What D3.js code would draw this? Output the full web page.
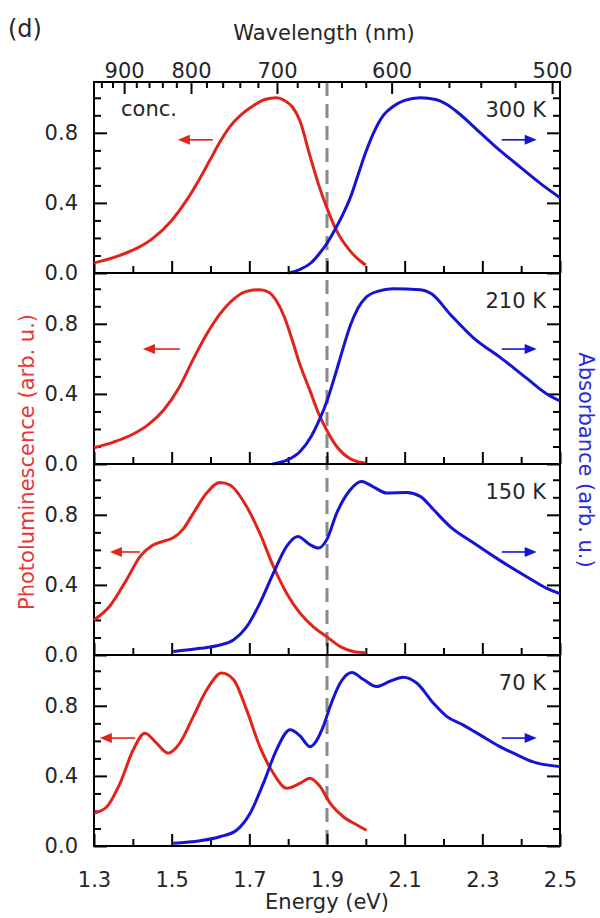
<!DOCTYPE html>
<html>
<head>
<meta charset="utf-8">
<script src="https://cdn.jsdelivr.net/npm/d3@7"></script>
<style>
body{margin:0;background:#fff}
svg text{font-family:"DejaVu Sans",sans-serif}
</style>
</head>
<body>
<svg id="chart"></svg>
<script>
// ---- data ----
const energyTicks = [1.3,1.5,1.7,1.9,2.1,2.3,2.5]
const energyMinor = [1.4,1.6,1.8,2.0,2.2,2.4]
const wavelengthTicks = [900,800,700,600,500]
const wavelengthMinor = [940,920,880,860,840,820,780,760,740,720,680,660,640,620,580,560,540,520]
const intensityTicks = [0.0,0.4,0.8]
const intensityMinor = [0.1,0.2,0.3,0.5,0.6,0.7,0.9,1.0]
const temperatures = ['300 K','210 K','150 K','70 K']
const gapEnergy = 1.9

// photoluminescence [energy eV, normalised]
const pl300 = [[1.30,0.058],[1.35,0.088],[1.40,0.13],[1.45,0.195],[1.50,0.30],[1.54,0.42],[1.57,0.53],[1.60,0.65],[1.625,0.75],[1.65,0.835],[1.68,0.905],[1.71,0.955],[1.74,0.99],[1.77,1.0],[1.79,0.985],[1.81,0.95],[1.83,0.87],[1.856,0.67],[1.882,0.48],[1.90,0.37],[1.925,0.24],[1.96,0.125],[1.985,0.07],[2.0,0.045]]
const pl210 = [[1.30,0.093],[1.35,0.125],[1.40,0.17],[1.44,0.225],[1.48,0.31],[1.52,0.44],[1.556,0.6],[1.59,0.74],[1.624,0.855],[1.659,0.94],[1.693,0.985],[1.727,0.995],[1.75,0.98],[1.77,0.93],[1.79,0.84],[1.81,0.71],[1.83,0.57],[1.856,0.42],[1.88,0.28],[1.90,0.19],[1.925,0.10],[1.96,0.03],[1.99,0.008],[2.0,0.005]]
const pl150 = [[1.30,0.2],[1.341,0.28],[1.384,0.43],[1.418,0.56],[1.45,0.625],[1.48,0.65],[1.505,0.67],[1.53,0.72],[1.556,0.81],[1.59,0.924],[1.624,0.985],[1.65,0.97],[1.693,0.847],[1.727,0.695],[1.762,0.505],[1.796,0.353],[1.83,0.24],[1.865,0.16],[1.899,0.105],[1.934,0.048],[1.968,0.02],[2.0,0.013]]
const pl70 = [[1.30,0.187],[1.333,0.224],[1.367,0.357],[1.401,0.549],[1.431,0.644],[1.461,0.587],[1.491,0.53],[1.521,0.587],[1.556,0.74],[1.59,0.89],[1.629,0.987],[1.659,0.95],[1.693,0.777],[1.727,0.567],[1.762,0.415],[1.796,0.33],[1.83,0.357],[1.856,0.387],[1.882,0.34],[1.908,0.244],[1.942,0.167],[1.977,0.12],[2.002,0.09]]

// absorbance [energy eV, normalised]
const abs300 = [[1.80,0.0],[1.83,0.02],[1.86,0.06],[1.88,0.11],[1.90,0.17],[1.92,0.245],[1.94,0.33],[1.96,0.43],[1.98,0.56],[2.0,0.69],[2.02,0.8],[2.045,0.9],[2.07,0.95],[2.10,0.985],[2.14,1.0],[2.18,0.99],[2.21,0.96],[2.24,0.91],[2.29,0.81],[2.345,0.7],[2.40,0.6],[2.45,0.51],[2.50,0.43]]
const abs210 = [[1.76,0.0],[1.80,0.025],[1.83,0.07],[1.86,0.16],[1.88,0.25],[1.90,0.36],[1.92,0.5],[1.94,0.65],[1.96,0.79],[1.98,0.89],[2.0,0.95],[2.03,0.985],[2.07,1.0],[2.14,0.995],[2.17,0.97],[2.217,0.855],[2.277,0.72],[2.345,0.61],[2.414,0.49],[2.466,0.40],[2.50,0.36]]
const abs150 = [[1.504,0.02],[1.573,0.038],[1.624,0.057],[1.659,0.086],[1.693,0.16],[1.727,0.295],[1.762,0.467],[1.796,0.62],[1.825,0.676],[1.856,0.63],[1.878,0.61],[1.899,0.657],[1.925,0.81],[1.959,0.94],[1.989,0.99],[2.019,0.96],[2.054,0.924],[2.105,0.927],[2.14,0.905],[2.174,0.83],[2.217,0.733],[2.277,0.64],[2.345,0.54],[2.414,0.447],[2.466,0.38],[2.5,0.35]]
const abs70 = [[1.504,0.015],[1.573,0.03],[1.624,0.053],[1.667,0.09],[1.702,0.187],[1.736,0.357],[1.77,0.549],[1.805,0.663],[1.83,0.63],[1.856,0.567],[1.89,0.68],[1.908,0.796],[1.934,0.93],[1.964,0.99],[1.994,0.95],[2.028,0.91],[2.062,0.94],[2.096,0.963],[2.131,0.93],[2.174,0.815],[2.208,0.74],[2.251,0.69],[2.294,0.634],[2.345,0.567],[2.38,0.53],[2.431,0.48],[2.5,0.453]]

const plSeries = [pl300, pl210, pl150, pl70]
const absSeries = [abs300, abs210, abs150, abs70]

// arrows: level and energy span (head, tail)
const arrowLevels = [0.76,0.656,0.588,0.616]
const plArrowSpans = [[1.516,1.606],[1.426,1.521],[1.341,1.418],[1.315,1.406]]
const absArrowSpan = [2.35,2.44]

// ---- layout ----
const W = 600, H = 918
const margin = {top: 82, left: 94, right: 40, bottom: 72}
const plotBottom = H - margin.bottom
const panelH = (plotBottom - margin.top) / 4
const red = '#e2231a', blue = '#1414d2'
const HC = 1239.84

const svg = d3.select('#chart').attr('width', W).attr('height', H)

const x = d3.scaleLinear().domain([1.3, 2.5]).range([margin.left, W - margin.right])

const line = y => d3.line()
    .x(d => x(d[0]))
    .y(d => y(d[1]))
    .curve(d3.curveMonotoneX)

function styleAxis(g){
    g.select('.domain').remove()
    g.selectAll('.tick line').attr('stroke', '#000').attr('stroke-width', 2)
    g.selectAll('.tick text').attr('fill', '#262626').attr('font-size', 21)
        .attr('font-family', '"DejaVu Sans",sans-serif')
}

// dashed band-gap marker under everything
svg.append('line')
    .attr('x1', x(gapEnergy)).attr('x2', x(gapEnergy))
    .attr('y1', margin.top).attr('y2', plotBottom)
    .attr('stroke', '#8a8a8a').attr('stroke-width', 3)
    .attr('stroke-dasharray', '14,8')

temperatures.forEach((t, i) => {
    const top = margin.top + i * panelH
    const bottom = top + panelH
    const y = d3.scaleLinear().domain([0, 1.09]).range([bottom, top])
    const g = svg.append('g')

    // axes
    g.append('g').attr('transform', `translate(${margin.left},0)`)
        .call(d3.axisLeft(y).tickValues(intensityTicks).tickSize(-13).tickPadding(16).tickFormat(d3.format('.1f')))
        .call(styleAxis)
    g.append('g').attr('transform', `translate(${margin.left},0)`)
        .call(d3.axisLeft(y).tickValues(intensityMinor).tickSize(-7).tickFormat(''))
        .call(styleAxis)
    g.append('g').attr('transform', `translate(${W - margin.right},0)`)
        .call(d3.axisRight(y).tickValues(intensityTicks).tickSize(-13).tickFormat(''))
        .call(styleAxis)
    g.append('g').attr('transform', `translate(${W - margin.right},0)`)
        .call(d3.axisRight(y).tickValues(intensityMinor).tickSize(-7).tickFormat(''))
        .call(styleAxis)

    const last = i === temperatures.length - 1
    g.append('g').attr('transform', `translate(0,${bottom})`)
        .call(d3.axisBottom(x).tickValues(energyTicks).tickSize(-12).tickPadding(26)
            .tickFormat(last ? d3.format('.1f') : ''))
        .call(styleAxis)
    g.append('g').attr('transform', `translate(0,${bottom})`)
        .call(d3.axisBottom(x).tickValues(energyMinor).tickSize(-7).tickFormat(''))
        .call(styleAxis)

    if (i === 0) {
        g.append('g').attr('transform', `translate(0,${top})`)
            .call(d3.axisTop(x).tickValues(wavelengthTicks.map(l => HC / l)).tickSize(-12).tickPadding(4)
                .tickFormat(e => Math.round(HC / e)))
            .call(styleAxis)
        g.append('g').attr('transform', `translate(0,${top})`)
            .call(d3.axisTop(x).tickValues(wavelengthMinor.map(l => HC / l)).tickSize(-6).tickFormat(''))
            .call(styleAxis)
    }

    // frame
    g.append('rect')
        .attr('x', margin.left).attr('y', top)
        .attr('width', W - margin.right - margin.left).attr('height', panelH)
        .attr('fill', 'none').attr('stroke', '#000').attr('stroke-width', 2)

    // curves
    g.append('path').attr('d', line(y)(plSeries[i]))
        .attr('fill', 'none').attr('stroke', red).attr('stroke-width', 3)
    g.append('path').attr('d', line(y)(absSeries[i]))
        .attr('fill', 'none').attr('stroke', blue).attr('stroke-width', 3)

    // arrows
    const ay = y(arrowLevels[i])
    const drawArrow = (x0, x1, color) => {
        const dir = Math.sign(x1 - x0)
        g.append('line').attr('x1', x0).attr('x2', x1 - dir * 8)
            .attr('y1', ay).attr('y2', ay)
            .attr('stroke', color).attr('stroke-width', 1.6)
        g.append('path')
            .attr('d', `M${x1},${ay} L${x1 - dir * 12},${ay - 5} L${x1 - dir * 12},${ay + 5} Z`)
            .attr('fill', color)
    }
    drawArrow(x(plArrowSpans[i][1]), x(plArrowSpans[i][0]), red)
    drawArrow(x(absArrowSpan[0]), x(absArrowSpan[1]), blue)

    // temperature tag
    g.append('text').attr('x', 546).attr('y', top + 35)
        .attr('text-anchor', 'end').attr('font-size', 21).attr('fill', '#262626')
        .text(t)

    if (i === 0) {
        g.append('text').attr('x', 121).attr('y', top + 34)
            .attr('font-size', 21).attr('fill', '#262626').text('conc.')
    }
})

// titles
svg.append('text').attr('x', 8).attr('y', 37).attr('font-size', 24).attr('fill', '#262626').text('(d)')
svg.append('text').attr('x', 324).attr('y', 40).attr('text-anchor', 'middle')
    .attr('font-size', 21).attr('fill', '#262626').text('Wavelength (nm)')
svg.append('text').attr('x', 327).attr('y', 909).attr('text-anchor', 'middle')
    .attr('font-size', 21).attr('fill', '#262626').text('Energy (eV)')
svg.append('text').attr('transform', 'translate(34,462) rotate(-90)')
    .attr('text-anchor', 'middle').attr('font-size', 21).attr('fill', '#e8363a')
    .text('Photoluminescence (arb. u.)')
svg.append('text').attr('transform', 'translate(579,460) rotate(90)')
    .attr('text-anchor', 'middle').attr('font-size', 21).attr('fill', '#2a2ad8')
    .text('Absorbance (arb. u.)')
</script>
</body>
</html>
